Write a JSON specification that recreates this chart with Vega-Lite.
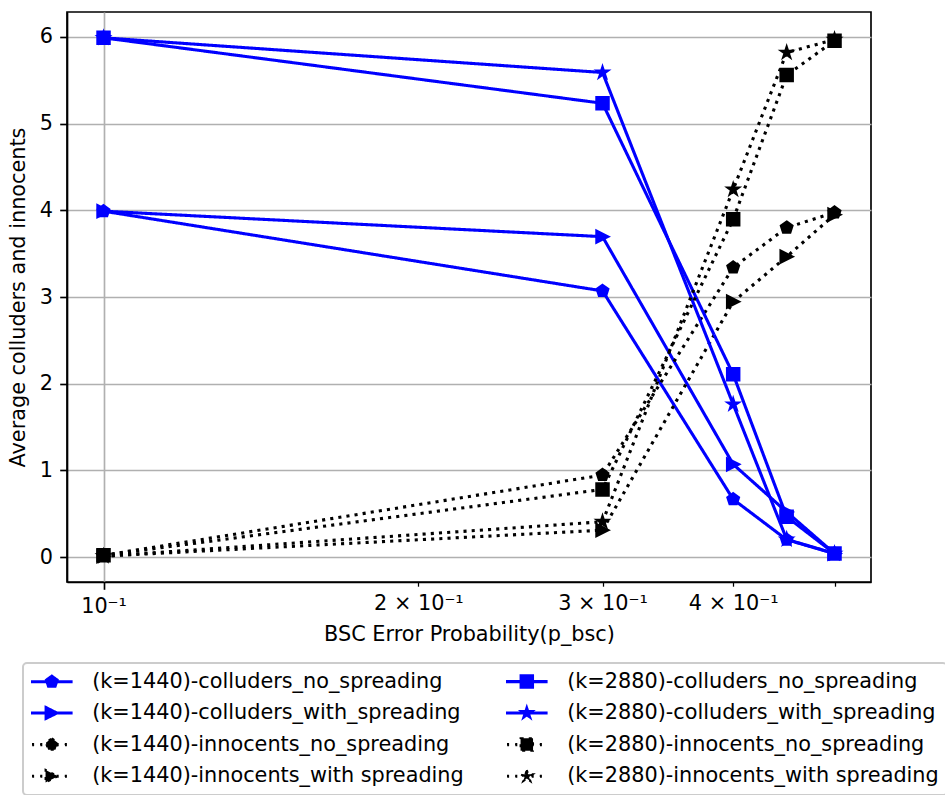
{
  "$schema": "https://vega.github.io/schema/vega-lite/v6.json",
  "autosize": {"type": "none"},
  "padding": {"left": 67, "top": 12, "right": 74, "bottom": 213},
  "width": 804,
  "height": 570,
  "background": "white",
  "config": {
    "font": "DejaVu Sans",
    "view": {"stroke": "black", "strokeWidth": 1.67},
    "axis": {
      "labelFont": "DejaVu Sans", "labelFontSize": 20.8, "labelColor": "black",
      "titleFont": "DejaVu Sans", "titleFontSize": 20.8, "titleFontWeight": "normal", "titleColor": "black",
      "tickColor": "black", "tickWidth": 1.67, "tickSize": 7.3, "labelPadding": 7.3,
      "domainColor": "black", "domainWidth": 1.67,
      "gridColor": "#b0b0b0", "gridWidth": 1.67, "gridOpacity": 1,
      "labelOverlap": false, "labelFlush": false, "labelBound": false
    },
    "point": {"filled": true, "size": 156, "strokeWidth": 2, "opacity": 1}
  },
  "data": {"values": [
    {"p": 0.1, "v": 3.99, "series": "(k=1440)-colluders_no_spreading"},
    {"p": 0.3, "v": 3.07, "series": "(k=1440)-colluders_no_spreading"},
    {"p": 0.4, "v": 0.666, "series": "(k=1440)-colluders_no_spreading"},
    {"p": 0.45, "v": 0.2, "series": "(k=1440)-colluders_no_spreading"},
    {"p": 0.5, "v": 0.04, "series": "(k=1440)-colluders_no_spreading"},
    {"p": 0.1, "v": 3.99, "series": "(k=1440)-colluders_with_spreading"},
    {"p": 0.3, "v": 3.696, "series": "(k=1440)-colluders_with_spreading"},
    {"p": 0.4, "v": 1.07, "series": "(k=1440)-colluders_with_spreading"},
    {"p": 0.45, "v": 0.52, "series": "(k=1440)-colluders_with_spreading"},
    {"p": 0.5, "v": 0.04, "series": "(k=1440)-colluders_with_spreading"},
    {"p": 0.1, "v": 0.02, "series": "(k=1440)-innocents_no_spreading"},
    {"p": 0.3, "v": 0.946, "series": "(k=1440)-innocents_no_spreading"},
    {"p": 0.4, "v": 3.34, "series": "(k=1440)-innocents_no_spreading"},
    {"p": 0.45, "v": 3.8, "series": "(k=1440)-innocents_no_spreading"},
    {"p": 0.5, "v": 3.975, "series": "(k=1440)-innocents_no_spreading"},
    {"p": 0.1, "v": 0.01, "series": "(k=1440)-innocents_with spreading"},
    {"p": 0.3, "v": 0.31, "series": "(k=1440)-innocents_with spreading"},
    {"p": 0.4, "v": 2.946, "series": "(k=1440)-innocents_with spreading"},
    {"p": 0.45, "v": 3.465, "series": "(k=1440)-innocents_with spreading"},
    {"p": 0.5, "v": 3.95, "series": "(k=1440)-innocents_with spreading"},
    {"p": 0.1, "v": 5.99, "series": "(k=2880)-colluders_no_spreading"},
    {"p": 0.3, "v": 5.235, "series": "(k=2880)-colluders_no_spreading"},
    {"p": 0.4, "v": 2.108, "series": "(k=2880)-colluders_no_spreading"},
    {"p": 0.45, "v": 0.465, "series": "(k=2880)-colluders_no_spreading"},
    {"p": 0.5, "v": 0.04, "series": "(k=2880)-colluders_no_spreading"},
    {"p": 0.1, "v": 5.99, "series": "(k=2880)-colluders_with_spreading"},
    {"p": 0.3, "v": 5.59, "series": "(k=2880)-colluders_with_spreading"},
    {"p": 0.4, "v": 1.762, "series": "(k=2880)-colluders_with_spreading"},
    {"p": 0.45, "v": 0.204, "series": "(k=2880)-colluders_with_spreading"},
    {"p": 0.5, "v": 0.04, "series": "(k=2880)-colluders_with_spreading"},
    {"p": 0.1, "v": 0.02, "series": "(k=2880)-innocents_no_spreading"},
    {"p": 0.3, "v": 0.78, "series": "(k=2880)-innocents_no_spreading"},
    {"p": 0.4, "v": 3.896, "series": "(k=2880)-innocents_no_spreading"},
    {"p": 0.45, "v": 5.56, "series": "(k=2880)-innocents_no_spreading"},
    {"p": 0.5, "v": 5.957, "series": "(k=2880)-innocents_no_spreading"},
    {"p": 0.1, "v": 0.01, "series": "(k=2880)-innocents_with spreading"},
    {"p": 0.3, "v": 0.407, "series": "(k=2880)-innocents_with spreading"},
    {"p": 0.4, "v": 4.24, "series": "(k=2880)-innocents_with spreading"},
    {"p": 0.45, "v": 5.82, "series": "(k=2880)-innocents_with spreading"},
    {"p": 0.5, "v": 5.97, "series": "(k=2880)-innocents_with spreading"}
  ]},
  "encoding": {
    "x": {
      "field": "p", "type": "quantitative",
      "scale": {"type": "log", "domain": [0.09227, 0.5418], "nice": false},
      "axis": {
        "title": "BSC Error Probability(p_bsc)",
        "titlePadding": 8,
        "values": [0.1, 0.2, 0.3, 0.4, 0.5],
        "labelExpr": "datum.value == 0.1 ? '10⁻¹' : (datum.value > 0.45 ? '' : format(round(datum.value*10), 'd') + ' × 10⁻¹')",
        "grid": true,
        "gridOpacity": {"condition": {"test": "datum.value == 0.1", "value": 1}, "value": 0},
        "tickSize": {"condition": {"test": "datum.value == 0.1", "value": 7.3}, "value": 4.2},
        "tickWidth": {"condition": {"test": "datum.value == 0.1", "value": 1.67}, "value": 1.25}
      }
    },
    "y": {
      "field": "v", "type": "quantitative",
      "scale": {"domain": [-0.288, 6.288], "nice": false, "zero": false},
      "axis": {
        "title": "Average colluders and innocents",
        "titlePadding": 11,
        "values": [0, 1, 2, 3, 4, 5, 6],
        "format": "d",
        "grid": true
      }
    }
  },
  "layer": [
    {
      "mark": {"type": "line", "strokeWidth": 3.1},
      "encoding": {
        "color": {
          "field": "series", "type": "nominal",
          "scale": {
            "domain": ["(k=1440)-colluders_no_spreading", "(k=1440)-colluders_with_spreading", "(k=1440)-innocents_no_spreading", "(k=1440)-innocents_with spreading", "(k=2880)-colluders_no_spreading", "(k=2880)-colluders_with_spreading", "(k=2880)-innocents_no_spreading", "(k=2880)-innocents_with spreading"],
            "range": ["blue", "blue", "black", "black", "blue", "blue", "black", "black"]
          },
          "legend": {
            "orient": "none", "legendX": -44, "legendY": 651,
            "columns": 2, "title": null,
            "labelFont": "DejaVu Sans", "labelFontSize": 20.8, "labelLimit": 700, "labelColor": "black",
            "symbolSize": 156, "symbolStrokeWidth": 2, "symbolOffset": 10.4, "labelOffset": 30,
            "rowPadding": 9.6, "columnPadding": 39, "padding": 8,
            "strokeColor": "#cccccc", "fillColor": "rgba(255,255,255,0.8)", "cornerRadius": 4,
            "encode": {
              "legend": {"update": {"strokeWidth": {"value": 2}}},
              "symbols": {"update": {
                "shape": {"signal": "(indexof(datum.value,'innocents') >= 0 ? 'M-3.17,-0.088H-2.994V0.088H-3.17ZM-1.857,-0.088H-1.681V0.088H-1.857ZM0.769,-0.088H0.945V0.088H0.769ZM2.082,-0.088H2.258V0.088H2.082Z' : 'M-3.17,-0.088H3.17V0.088H-3.17Z') + (indexof(datum.value,'no_spreading') >= 0 ? (indexof(datum.value,'1440') >= 0 ? 'M0,-1L0.951,-0.309L0.588,0.809L-0.588,0.809L-0.951,-0.309Z' : 'M-1,-1L1,-1L1,1L-1,1Z') : (indexof(datum.value,'1440') >= 0 ? 'M1,0L-1,1L-1,-1Z' : 'M0,-1L0.2245,-0.309L0.951,-0.309L0.3633,0.118L0.588,0.809L0,0.382L-0.588,0.809L-0.3633,0.118L-0.951,-0.309L-0.2245,-0.309Z'))"},
                "fill": {"signal": "indexof(datum.value,'colluders') >= 0 ? 'blue' : 'black'"},
                "stroke": {"signal": "indexof(datum.value,'colluders') >= 0 ? 'blue' : 'black'"},
                "strokeDash": {"value": [1, 0]},
                "fillOpacity": {"value": 1},
                "opacity": {"value": 1}
              }}
            }
          }
        },
        "strokeDash": {
          "field": "series", "type": "nominal",
          "scale": {
            "domain": ["(k=1440)-colluders_no_spreading", "(k=1440)-colluders_with_spreading", "(k=1440)-innocents_no_spreading", "(k=1440)-innocents_with spreading", "(k=2880)-colluders_no_spreading", "(k=2880)-colluders_with_spreading", "(k=2880)-innocents_no_spreading", "(k=2880)-innocents_with spreading"],
            "range": [[1, 0], [1, 0], [3.1, 5.1], [3.1, 5.1], [1, 0], [1, 0], [3.1, 5.1], [3.1, 5.1]]
          },
          "legend": null
        }
      }
    },
    {
      "transform": [{"filter": {"field": "series", "oneOf": ["(k=1440)-colluders_no_spreading", "(k=1440)-innocents_no_spreading"]}}],
      "mark": {"type": "point", "shape": "M0,-1L0.951,-0.309L0.588,0.809L-0.588,0.809L-0.951,-0.309Z"},
      "encoding": {
        "fill": {"field": "series", "type": "nominal", "scale": {"domain": ["(k=1440)-colluders_no_spreading", "(k=1440)-innocents_no_spreading"], "range": ["blue", "black"]}, "legend": null},
        "stroke": {"field": "series", "type": "nominal", "scale": {"domain": ["(k=1440)-colluders_no_spreading", "(k=1440)-innocents_no_spreading"], "range": ["blue", "black"]}, "legend": null}
      }
    },
    {
      "transform": [{"filter": {"field": "series", "oneOf": ["(k=1440)-colluders_with_spreading", "(k=1440)-innocents_with spreading"]}}],
      "mark": {"type": "point", "shape": "M1,0L-1,1L-1,-1Z"},
      "encoding": {
        "fill": {"field": "series", "type": "nominal", "scale": {"domain": ["(k=1440)-colluders_with_spreading", "(k=1440)-innocents_with spreading"], "range": ["blue", "black"]}, "legend": null},
        "stroke": {"field": "series", "type": "nominal", "scale": {"domain": ["(k=1440)-colluders_with_spreading", "(k=1440)-innocents_with spreading"], "range": ["blue", "black"]}, "legend": null}
      }
    },
    {
      "transform": [{"filter": {"field": "series", "oneOf": ["(k=2880)-colluders_no_spreading", "(k=2880)-innocents_no_spreading"]}}],
      "mark": {"type": "point", "shape": "M-1,-1L1,-1L1,1L-1,1Z"},
      "encoding": {
        "fill": {"field": "series", "type": "nominal", "scale": {"domain": ["(k=2880)-colluders_no_spreading", "(k=2880)-innocents_no_spreading"], "range": ["blue", "black"]}, "legend": null},
        "stroke": {"field": "series", "type": "nominal", "scale": {"domain": ["(k=2880)-colluders_no_spreading", "(k=2880)-innocents_no_spreading"], "range": ["blue", "black"]}, "legend": null}
      }
    },
    {
      "transform": [{"filter": {"field": "series", "oneOf": ["(k=2880)-colluders_with_spreading", "(k=2880)-innocents_with spreading"]}}],
      "mark": {"type": "point", "shape": "M0,-1L0.2245,-0.309L0.951,-0.309L0.3633,0.118L0.588,0.809L0,0.382L-0.588,0.809L-0.3633,0.118L-0.951,-0.309L-0.2245,-0.309Z"},
      "encoding": {
        "fill": {"field": "series", "type": "nominal", "scale": {"domain": ["(k=2880)-colluders_with_spreading", "(k=2880)-innocents_with spreading"], "range": ["blue", "black"]}, "legend": null},
        "stroke": {"field": "series", "type": "nominal", "scale": {"domain": ["(k=2880)-colluders_with_spreading", "(k=2880)-innocents_with spreading"], "range": ["blue", "black"]}, "legend": null}
      }
    }
  ],
  "resolve": {"scale": {"fill": "independent", "stroke": "independent"}}
}
